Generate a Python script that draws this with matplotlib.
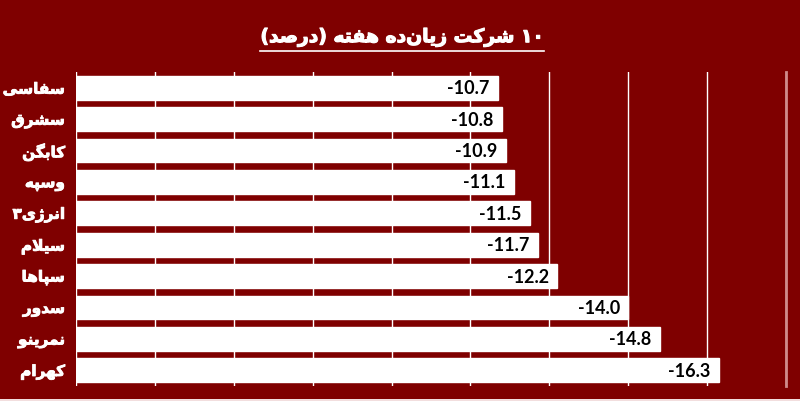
import matplotlib
matplotlib.use("Agg")
import matplotlib.pyplot as plt
import matplotlib.patheffects as pe
from matplotlib.lines import Line2D
from matplotlib.patches import Rectangle
import numpy as np

# ---------------- data ----------------
title = "۱۰ شرکت زیان\u200cده هفته (درصد)"
categories = ["سفاسی", "سشرق", "کابگن", "وسپه", "انرژی۳",
              "سیلام", "سپاها", "سدور", "نمرینو", "کهرام"]
values = [-10.7, -10.8, -10.9, -11.1, -11.5, -11.7, -12.2, -14.0, -14.8, -16.3]

# ---------------- simple Persian shaper (matplotlib has no shaping) ----------------
FORMS = {  # isolated, final, initial, medial
    'ا': (0xFE8D, 0xFE8E, None, None),
    'ب': (0xFE8F, 0xFE90, 0xFE91, 0xFE92),
    'پ': (0xFB56, 0xFB57, 0xFB58, 0xFB59),
    'ت': (0xFE95, 0xFE96, 0xFE97, 0xFE98),
    'د': (0xFEA9, 0xFEAA, None, None),
    'ر': (0xFEAD, 0xFEAE, None, None),
    'ز': (0xFEAF, 0xFEB0, None, None),
    'ژ': (0xFB8A, 0xFB8B, None, None),
    'س': (0xFEB1, 0xFEB2, 0xFEB3, 0xFEB4),
    'ش': (0xFEB5, 0xFEB6, 0xFEB7, 0xFEB8),
    'ص': (0xFEB9, 0xFEBA, 0xFEBB, 0xFEBC),
    'ف': (0xFED1, 0xFED2, 0xFED3, 0xFED4),
    'ق': (0xFED5, 0xFED6, 0xFED7, 0xFED8),
    'ک': (0xFB8E, 0xFB8F, 0xFB90, 0xFB91),
    'گ': (0xFB92, 0xFB93, 0xFB94, 0xFB95),
    'ل': (0xFEDD, 0xFEDE, 0xFEDF, 0xFEE0),
    'م': (0xFEE1, 0xFEE2, 0xFEE3, 0xFEE4),
    'ن': (0xFEE5, 0xFEE6, 0xFEE7, 0xFEE8),
    'و': (0xFEED, 0xFEEE, None, None),
    'ه': (0xFEE9, 0xFEEA, 0xFEEB, 0xFEEC),
    'ی': (0xFBFC, 0xFBFD, 0xFBFE, 0xFBFF),
}


def dual(c):
    return c in FORMS and FORMS[c][2] is not None


def joins(c):
    return c in FORMS


def shape(s):
    out = []
    n = len(s)
    i = 0
    while i < n:
        c = s[i]
        if c == '\u200c':
            i += 1
            continue
        if c not in FORMS:
            out.append(c)
            i += 1
            continue
        cp = i > 0 and dual(s[i - 1]) and joins(c)
        if c == 'ل' and i + 1 < n and s[i + 1] == 'ا':
            out.append(chr(0xFEFC if cp else 0xFEFB))
            i += 2
            continue
        cn = i < n - 1 and dual(c) and joins(s[i + 1])
        f = FORMS[c]
        if cp and cn:
            g = f[3]
        elif cp:
            g = f[1]
        elif cn:
            g = f[2]
        else:
            g = f[0]
        out.append(chr(g))
        i += 1
    # visual order: reverse, keep digit runs LTR, mirror brackets
    vis = out[::-1]
    res = []
    run = []
    for ch in vis:
        if ch.isdigit():
            run.append(ch)
        else:
            if run:
                res.extend(run[::-1])
                run = []
            res.append({'(': ')', ')': '('}.get(ch, ch))
    if run:
        res.extend(run[::-1])
    return ''.join(res)


# ---------------- figure ----------------
BG = '#7f0000'
fig = plt.figure(figsize=(8.0, 4.02), dpi=100, facecolor=BG)
ax = fig.add_axes([0.095, 0.0373, 0.8875, 0.7811])
ax.set_facecolor(BG)

ypos = np.arange(len(categories))
ax.barh(ypos, values, height=0.76, color='white', edgecolor='white', zorder=3)

ax.set_xlim(0, -18)
ax.set_ylim(len(categories) - 0.5, -0.5)
ax.set_xticks(np.arange(0, -18.1, -2))
ax.xaxis.grid(True, color='white', linewidth=1.0, zorder=0)
ax.set_axisbelow(True)
ax.tick_params(axis='x', length=0, labelbottom=False)
ax.tick_params(axis='y', length=0, pad=8)
ax.set_yticks(ypos)
ax.set_yticklabels([shape(c) for c in categories], color='white',
                   fontsize=11, fontweight='bold', family='DejaVu Sans')
bold_fx = [pe.withStroke(linewidth=0.6, foreground='white')]
for lab in ax.get_yticklabels():
    lab.set_path_effects(bold_fx)
for s in ['top', 'bottom', 'left']:
    ax.spines[s].set_visible(False)
ax.spines['right'].set_color('#d08a8a')
ax.spines['right'].set_linewidth(2)

for y, v in zip(ypos, values):
    ax.annotate(f"{v:.1f}", xy=(v, y), xytext=(-6, 0), textcoords='offset points',
                ha='right', va='center', fontsize=13, fontweight='bold',
                family='Lato', color='black', zorder=4)

t = fig.text(0.503, 0.905, shape(title), ha='center', va='center', color='white',
             fontsize=13.5, fontweight='bold', family='DejaVu Sans',
             path_effects=[pe.withStroke(linewidth=0.8, foreground='white')])

fig.canvas.draw()
bb = t.get_window_extent(fig.canvas.get_renderer()).transformed(fig.transFigure.inverted())
fig.add_artist(Line2D([bb.x0, bb.x1], [bb.y0 - 0.01, bb.y0 - 0.01],
                      transform=fig.transFigure, color='white', linewidth=1.2))
# thin light frame edge at bottom, as in the reference
fig.add_artist(Rectangle((0, 0), 1, 0.006, transform=fig.transFigure,
                         facecolor='#f2dede', edgecolor='none'))

fig.savefig('out.png', dpi=100, facecolor=BG)
